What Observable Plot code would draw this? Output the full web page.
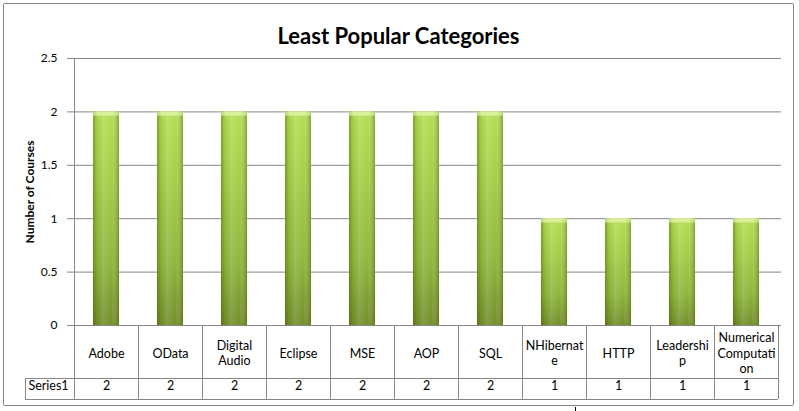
<!DOCTYPE html>
<html>
<head>
<meta charset="utf-8">
<script src="https://cdn.jsdelivr.net/npm/d3@7"></script>
<script src="https://cdn.jsdelivr.net/npm/@observablehq/plot@0.6"></script>
<style>
  html, body { margin: 0; padding: 0; background: #fff; }
  #chart { width: 799px; height: 411px; position: relative; }
  svg { display: block; }
</style>
</head>
<body>
<div id="chart"></div>
<script>
const title = "Least Popular Categories";
const yLabel = "Number of Courses";
const seriesName = "Series1";
const categories = ["Adobe", "OData", "Digital Audio", "Eclipse", "MSE", "AOP", "SQL", "NHibernate", "HTTP", "Leadership", "Numerical Computation"];
const courses = [2, 2, 2, 2, 2, 2, 2, 1, 1, 1, 1];
const tableLabels = ["Adobe", "OData", "Digital\nAudio", "Eclipse", "MSE", "AOP", "SQL", "NHibernat\ne", "HTTP", "Leadershi\np", "Numerical\nComputati\non"];
const yTicks = [0, 0.5, 1, 1.5, 2, 2.5];

const data = categories.map((c, i) => ({category: c, value: courses[i], label: tableLabels[i]}));
const grid = "#868686";
const font = "Lato, 'Open Sans', sans-serif";

const chart = Plot.plot({
  width: 799,
  height: 411,
  marginLeft: 71,
  marginRight: 18,
  marginTop: 58,
  marginBottom: 86,
  style: {fontFamily: font, fontSize: "12px", background: "transparent", color: "#000", overflow: "visible"},
  x: {domain: categories, padding: 0, axis: null},
  y: {domain: [0, 2.5], axis: null},
  marks: [
    Plot.gridY(yTicks, {stroke: grid, strokeOpacity: 1}),
    Plot.axisY(yTicks, {tickSize: 4, tickPadding: 10, tickFormat: d => String(d), stroke: grid, fill: "#000", fontSize: 12, label: null}),
    Plot.barY(data, {x: "category", y: "value", insetLeft: 19, insetRight: 19, fill: "url(#barV)"}),
    Plot.barY(data, {x: "category", y: "value", insetLeft: 19, insetRight: 19, fill: "url(#barH)"}),
    Plot.barY(data, {x: "category", y1: d => d.value - 0.04, y2: "value", insetLeft: 19, insetRight: 19, fill: "url(#barCap)"}),
    Plot.ruleY([0], {stroke: grid}),
    Plot.text(data, {x: "category", text: "label", frameAnchor: "bottom", dy: 27, lineHeight: 1.25, lineAnchor: "middle", fontSize: 12.5, fill: "#000"}),
    Plot.text(data, {x: "category", text: d => String(d.value), frameAnchor: "bottom", dy: 64, fontSize: 12.5, fill: "#000"}),
    Plot.text([seriesName], {frameAnchor: "bottom-left", dx: -23, dy: 64, textAnchor: "middle", fontSize: 12.5, fill: "#000"}),
    Plot.text([yLabel], {frameAnchor: "left", dx: -41, rotate: -90, textAnchor: "middle", fontSize: 12, fontWeight: "bold", fill: "#000"}),
    Plot.text([title], {frameAnchor: "top", dx: -28, dy: -30, textAnchor: "middle", fontSize: 22, fontWeight: "bold", fill: "#000"})
  ]
});

document.getElementById("chart").appendChild(chart);

const svg = d3.select(chart);
const defs = svg.insert("defs", ":first-child");
const gv = defs.append("linearGradient").attr("id", "barV").attr("x1", 0).attr("y1", 0).attr("x2", 0).attr("y2", 1);
[["0%", "#b5de55"], ["30%", "#a5cf48"], ["70%", "#8fb73b"], ["100%", "#728f2a"]].forEach(([o, c]) => gv.append("stop").attr("offset", o).attr("stop-color", c));
const gh = defs.append("linearGradient").attr("id", "barH").attr("x1", 0).attr("y1", 0).attr("x2", 1).attr("y2", 0);
[["0%", "#3d5200", 0.45], ["15%", "#4a6000", 0.1], ["40%", "#ffffff", 0.12], ["70%", "#ffffff", 0.0], ["100%", "#3d5200", 0.4]].forEach(([o, c, a]) => gh.append("stop").attr("offset", o).attr("stop-color", c).attr("stop-opacity", a));
const gc = defs.append("linearGradient").attr("id", "barCap").attr("x1", 0).attr("y1", 0).attr("x2", 1).attr("y2", 0);
[["0%", "#b9d878"], ["20%", "#d8f09a"], ["80%", "#d8f09a"], ["100%", "#b9d878"]].forEach(([o, c]) => gc.append("stop").attr("offset", o).attr("stop-color", c));

// data table grid drawn from Plot's own scales
const xs = chart.scale("x");
const ys = chart.scale("y");
const y0 = ys.apply(0);
const yTop = ys.apply(2.5);
const rowCat = y0 + 53;
const rowVal = rowCat + 21;
const bounds = categories.map(c => xs.apply(c));
bounds.push(xs.apply(categories[categories.length - 1]) + xs.bandwidth);
const right = bounds[bounds.length - 1];
const g = svg.append("g").attr("stroke", grid).attr("fill", "none").attr("shape-rendering", "crispEdges");
bounds.forEach((b, i) => {
  g.append("line").attr("x1", Math.round(b) + 0.5).attr("x2", Math.round(b) + 0.5)
    .attr("y1", i === 0 ? yTop : y0).attr("y2", rowVal);
});
g.append("line").attr("x1", 25.5).attr("x2", 25.5).attr("y1", rowCat).attr("y2", rowVal);
g.append("line").attr("x1", 25).attr("x2", right).attr("y1", rowCat + 0.5).attr("y2", rowCat + 0.5);
g.append("line").attr("x1", 25).attr("x2", right).attr("y1", rowVal + 0.5).attr("y2", rowVal + 0.5);
// chart area border
g.append("rect").attr("x", 3.5).attr("y", 3.5).attr("width", 790).attr("height", 402).attr("rx", 2);
g.append("line").attr("x1", 575.5).attr("x2", 575.5).attr("y1", 407).attr("y2", 411).attr("stroke", "#000");
</script>
</body>
</html>
